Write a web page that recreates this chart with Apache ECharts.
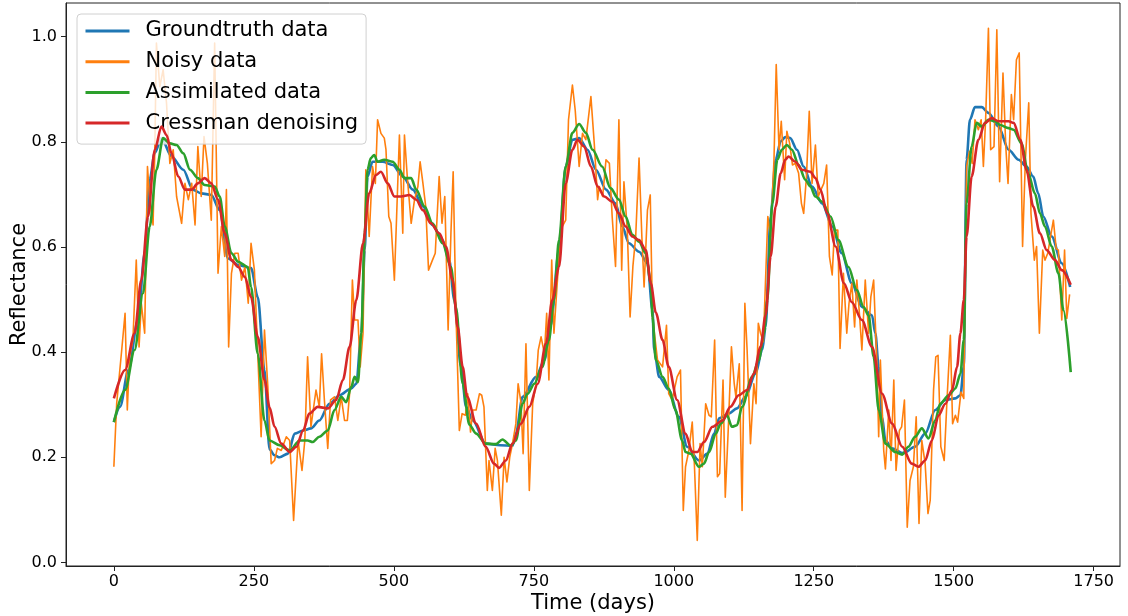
<!DOCTYPE html>
<html>
<head>
<meta charset="utf-8">
<script src="https://cdn.jsdelivr.net/npm/echarts@6/dist/echarts.min.js"></script>
<style>
  html, body { margin: 0; padding: 0; background: #fff; }
  #chart { width: 1128px; height: 616px; }
</style>
</head>
<body>
<div id="chart"></div>
<script>
// Reflectance time series: ground truth, noisy observations and two reconstructions.

const xTicks = [0, 250, 500, 750, 1000, 1250, 1500, 1750];
const yTicks = [0.0, 0.2, 0.4, 0.6, 0.8, 1.0];

const gtDays = [0, 11, 26, 43, 55, 64, 73, 85, 103, 124, 141, 156, 174, 189, 204, 222, 245, 257, 269, 278, 287, 296, 311, 323, 338, 352, 367, 385, 403, 424, 433, 442, 448, 453, 462, 480, 498, 516, 534, 552, 569, 587, 599, 608, 620, 629, 641, 664, 690, 712, 718, 730, 754, 769, 780, 795, 807, 819, 831, 846, 861, 879, 896, 908, 920, 938, 953, 962, 965, 974, 991, 1009, 1024, 1045, 1060, 1072, 1081, 1098, 1113, 1128, 1146, 1158, 1164, 1173, 1182, 1191, 1199, 1208, 1220, 1232, 1247, 1265, 1283, 1300, 1318, 1336, 1354, 1360, 1366, 1372, 1378, 1390, 1410, 1431, 1449, 1467, 1485, 1503, 1512, 1518, 1523, 1529, 1538, 1550, 1562, 1580, 1598, 1616, 1630, 1642, 1651, 1660, 1675, 1693, 1708];
const gtVals = [0.267, 0.296, 0.366, 0.461, 0.588, 0.728, 0.779, 0.807, 0.772, 0.747, 0.709, 0.702, 0.699, 0.67, 0.578, 0.566, 0.56, 0.505, 0.366, 0.215, 0.204, 0.2, 0.207, 0.245, 0.251, 0.255, 0.27, 0.302, 0.318, 0.331, 0.34, 0.436, 0.594, 0.734, 0.762, 0.762, 0.756, 0.734, 0.709, 0.677, 0.642, 0.613, 0.575, 0.499, 0.372, 0.296, 0.27, 0.226, 0.223, 0.222, 0.245, 0.315, 0.353, 0.385, 0.45, 0.594, 0.753, 0.804, 0.807, 0.785, 0.747, 0.709, 0.683, 0.639, 0.607, 0.591, 0.569, 0.48, 0.404, 0.353, 0.328, 0.277, 0.22, 0.194, 0.207, 0.245, 0.274, 0.283, 0.293, 0.315, 0.359, 0.404, 0.448, 0.658, 0.766, 0.801, 0.809, 0.807, 0.785, 0.753, 0.715, 0.683, 0.639, 0.588, 0.531, 0.486, 0.47, 0.436, 0.372, 0.277, 0.232, 0.217, 0.208, 0.22, 0.245, 0.29, 0.309, 0.312, 0.318, 0.372, 0.766, 0.842, 0.866, 0.866, 0.855, 0.829, 0.785, 0.766, 0.753, 0.734, 0.702, 0.658, 0.62, 0.569, 0.524];

const noisyDays = [0, 5, 14, 20, 24, 28, 34, 40, 45, 49, 55, 60, 64, 70, 73, 76, 82, 88, 94, 100, 106, 112, 121, 127, 133, 139, 145, 150, 156, 161, 167, 174, 180, 186, 192, 198, 201, 205, 210, 216, 222, 228, 234, 240, 245, 251, 257, 263, 269, 275, 281, 287, 292, 299, 308, 314, 321, 329, 336, 341, 346, 352, 361, 367, 371, 376, 382, 387, 394, 400, 406, 412, 417, 421, 426, 430, 436, 440, 445, 450, 456, 462, 467, 471, 477, 483, 486, 491, 495, 501, 505, 510, 516, 519, 524, 531, 537, 543, 547, 552, 557, 562, 569, 574, 581, 586, 591, 597, 602, 606, 611, 617, 622, 628, 632, 637, 641, 647, 653, 657, 661, 667, 670, 676, 681, 685, 692, 697, 702, 707, 712, 718, 722, 727, 731, 736, 742, 748, 754, 758, 763, 769, 773, 777, 782, 786, 795, 801, 807, 812, 819, 824, 831, 837, 843, 852, 858, 864, 867, 873, 879, 885, 890, 896, 902, 907, 911, 917, 922, 927, 932, 938, 943, 947, 953, 958, 962, 971, 980, 987, 991, 997, 1006, 1012, 1017, 1021, 1027, 1033, 1037, 1042, 1047, 1051, 1057, 1063, 1067, 1073, 1078, 1082, 1088, 1092, 1097, 1103, 1108, 1111, 1117, 1122, 1127, 1131, 1137, 1143, 1147, 1151, 1155, 1160, 1168, 1173, 1179, 1183, 1188, 1192, 1198, 1202, 1207, 1212, 1217, 1223, 1228, 1232, 1237, 1242, 1247, 1253, 1258, 1263, 1268, 1273, 1278, 1283, 1287, 1293, 1297, 1303, 1309, 1313, 1318, 1323, 1327, 1332, 1336, 1342, 1348, 1352, 1357, 1363, 1366, 1369, 1375, 1378, 1384, 1388, 1393, 1397, 1403, 1407, 1412, 1417, 1422, 1428, 1433, 1438, 1443, 1449, 1454, 1458, 1464, 1468, 1472, 1477, 1483, 1488, 1494, 1498, 1503, 1507, 1513, 1518, 1523, 1528, 1533, 1538, 1544, 1549, 1553, 1557, 1562, 1566, 1572, 1577, 1582, 1588, 1593, 1597, 1603, 1607, 1612, 1617, 1623, 1628, 1634, 1638, 1644, 1648, 1653, 1659, 1663, 1668, 1673, 1678, 1683, 1687, 1693, 1698, 1702, 1707];
const noisyVals = [0.182, 0.302, 0.404, 0.474, 0.29, 0.391, 0.423, 0.575, 0.41, 0.493, 0.436, 0.753, 0.69, 0.642, 0.778, 0.988, 0.905, 0.937, 0.874, 0.759, 0.785, 0.696, 0.645, 0.721, 0.69, 0.721, 0.642, 0.791, 0.696, 0.81, 0.759, 0.651, 0.988, 0.55, 0.639, 0.582, 0.709, 0.41, 0.55, 0.588, 0.588, 0.537, 0.562, 0.493, 0.607, 0.556, 0.397, 0.239, 0.442, 0.334, 0.188, 0.194, 0.217, 0.213, 0.239, 0.232, 0.08, 0.232, 0.175, 0.232, 0.391, 0.258, 0.328, 0.296, 0.397, 0.309, 0.217, 0.309, 0.315, 0.27, 0.315, 0.27, 0.27, 0.321, 0.537, 0.461, 0.461, 0.372, 0.436, 0.747, 0.62, 0.753, 0.721, 0.842, 0.816, 0.807, 0.785, 0.658, 0.645, 0.537, 0.658, 0.813, 0.626, 0.813, 0.734, 0.645, 0.69, 0.715, 0.762, 0.721, 0.677, 0.556, 0.575, 0.588, 0.734, 0.645, 0.696, 0.442, 0.626, 0.743, 0.474, 0.251, 0.283, 0.28, 0.321, 0.248, 0.29, 0.29, 0.321, 0.318, 0.296, 0.137, 0.194, 0.137, 0.217, 0.194, 0.09, 0.2, 0.153, 0.2, 0.226, 0.264, 0.34, 0.305, 0.207, 0.416, 0.137, 0.302, 0.34, 0.404, 0.429, 0.397, 0.474, 0.347, 0.575, 0.436, 0.582, 0.639, 0.651, 0.842, 0.908, 0.86, 0.753, 0.816, 0.804, 0.886, 0.797, 0.69, 0.715, 0.696, 0.766, 0.759, 0.658, 0.563, 0.842, 0.556, 0.724, 0.632, 0.467, 0.563, 0.62, 0.769, 0.62, 0.524, 0.67, 0.699, 0.467, 0.385, 0.372, 0.451, 0.321, 0.309, 0.353, 0.366, 0.099, 0.182, 0.213, 0.267, 0.182, 0.042, 0.226, 0.182, 0.302, 0.28, 0.277, 0.423, 0.163, 0.169, 0.347, 0.124, 0.245, 0.41, 0.34, 0.315, 0.378, 0.099, 0.493, 0.404, 0.226, 0.34, 0.302, 0.455, 0.436, 0.42, 0.658, 0.62, 0.766, 0.947, 0.785, 0.839, 0.728, 0.82, 0.797, 0.756, 0.759, 0.74, 0.683, 0.664, 0.734, 0.858, 0.721, 0.794, 0.696, 0.709, 0.721, 0.756, 0.582, 0.547, 0.632, 0.632, 0.407, 0.55, 0.436, 0.493, 0.531, 0.448, 0.537, 0.467, 0.404, 0.537, 0.436, 0.505, 0.537, 0.372, 0.239, 0.385, 0.213, 0.178, 0.29, 0.194, 0.347, 0.175, 0.251, 0.258, 0.309, 0.067, 0.156, 0.182, 0.277, 0.074, 0.232, 0.188, 0.093, 0.118, 0.328, 0.391, 0.394, 0.22, 0.194, 0.309, 0.432, 0.264, 0.28, 0.267, 0.324, 0.312, 0.753, 0.782, 0.759, 0.842, 0.823, 0.842, 0.753, 0.842, 1.016, 0.785, 0.791, 1.013, 0.724, 0.931, 0.791, 0.721, 0.89, 0.842, 0.956, 0.969, 0.601, 0.766, 0.874, 0.664, 0.575, 0.601, 0.436, 0.594, 0.575, 0.588, 0.62, 0.651, 0.597, 0.594, 0.461, 0.594, 0.464, 0.51];

const assimDays = [0, 20, 37, 52, 64, 76, 88, 100, 112, 124, 136, 150, 162, 180, 189, 198, 210, 222, 239, 245, 257, 269, 278, 296, 314, 332, 346, 355, 367, 382, 394, 406, 415, 424, 430, 436, 442, 448, 453, 459, 465, 471, 483, 498, 510, 519, 531, 540, 555, 569, 587, 602, 611, 623, 635, 647, 664, 682, 694, 709, 718, 730, 739, 751, 765, 777, 786, 795, 807, 819, 831, 843, 855, 872, 887, 902, 914, 926, 938, 950, 959, 962, 968, 980, 991, 1003, 1015, 1021, 1030, 1045, 1054, 1063, 1075, 1084, 1095, 1104, 1113, 1122, 1140, 1152, 1161, 1167, 1176, 1185, 1193, 1202, 1211, 1223, 1235, 1244, 1253, 1265, 1280, 1294, 1312, 1327, 1339, 1348, 1357, 1366, 1378, 1396, 1408, 1419, 1431, 1443, 1455, 1467, 1476, 1491, 1503, 1512, 1518, 1523, 1532, 1541, 1550, 1562, 1574, 1583, 1598, 1607, 1621, 1633, 1645, 1654, 1663, 1675, 1687, 1696, 1709];
const assimVals = [0.267, 0.328, 0.404, 0.512, 0.639, 0.747, 0.807, 0.797, 0.794, 0.778, 0.747, 0.731, 0.718, 0.715, 0.696, 0.639, 0.588, 0.572, 0.562, 0.524, 0.397, 0.27, 0.232, 0.223, 0.213, 0.232, 0.232, 0.229, 0.239, 0.251, 0.29, 0.315, 0.305, 0.334, 0.353, 0.343, 0.436, 0.626, 0.747, 0.769, 0.775, 0.762, 0.766, 0.762, 0.747, 0.731, 0.731, 0.709, 0.677, 0.645, 0.607, 0.562, 0.486, 0.34, 0.262, 0.245, 0.226, 0.225, 0.234, 0.222, 0.232, 0.302, 0.321, 0.34, 0.372, 0.423, 0.499, 0.613, 0.753, 0.817, 0.834, 0.817, 0.785, 0.753, 0.712, 0.69, 0.658, 0.623, 0.61, 0.588, 0.531, 0.467, 0.385, 0.353, 0.331, 0.29, 0.232, 0.21, 0.207, 0.182, 0.188, 0.21, 0.245, 0.264, 0.28, 0.258, 0.261, 0.296, 0.353, 0.385, 0.436, 0.499, 0.683, 0.766, 0.785, 0.794, 0.785, 0.756, 0.728, 0.715, 0.696, 0.686, 0.658, 0.613, 0.562, 0.518, 0.486, 0.47, 0.391, 0.29, 0.226, 0.21, 0.205, 0.22, 0.239, 0.255, 0.236, 0.27, 0.302, 0.318, 0.331, 0.359, 0.423, 0.683, 0.791, 0.836, 0.829, 0.842, 0.839, 0.832, 0.826, 0.823, 0.797, 0.74, 0.702, 0.664, 0.639, 0.601, 0.55, 0.48, 0.362];

const cressDays = [0, 20, 37, 49, 61, 73, 85, 94, 103, 115, 127, 139, 150, 162, 174, 186, 198, 210, 222, 234, 245, 257, 269, 278, 287, 299, 314, 326, 338, 349, 364, 382, 397, 409, 421, 433, 445, 456, 468, 477, 489, 501, 513, 528, 540, 552, 566, 581, 593, 605, 614, 623, 631, 647, 664, 679, 688, 700, 712, 727, 742, 757, 772, 783, 795, 807, 819, 828, 840, 852, 864, 876, 890, 902, 914, 926, 938, 950, 959, 968, 980, 991, 1006, 1021, 1033, 1042, 1054, 1069, 1087, 1101, 1116, 1131, 1143, 1155, 1164, 1173, 1182, 1191, 1199, 1205, 1217, 1229, 1244, 1253, 1262, 1274, 1289, 1304, 1318, 1336, 1354, 1372, 1390, 1408, 1425, 1437, 1449, 1461, 1473, 1485, 1497, 1506, 1512, 1518, 1523, 1532, 1544, 1556, 1568, 1580, 1598, 1607, 1619, 1630, 1642, 1654, 1666, 1681, 1693, 1709];
const cressVals = [0.312, 0.366, 0.436, 0.537, 0.658, 0.785, 0.829, 0.813, 0.778, 0.734, 0.709, 0.709, 0.721, 0.731, 0.721, 0.69, 0.626, 0.575, 0.562, 0.543, 0.505, 0.429, 0.347, 0.295, 0.258, 0.226, 0.21, 0.22, 0.251, 0.283, 0.296, 0.293, 0.309, 0.347, 0.41, 0.499, 0.607, 0.702, 0.737, 0.743, 0.721, 0.696, 0.696, 0.699, 0.69, 0.67, 0.645, 0.626, 0.601, 0.537, 0.448, 0.372, 0.315, 0.264, 0.22, 0.188, 0.18, 0.194, 0.226, 0.264, 0.296, 0.34, 0.417, 0.499, 0.562, 0.721, 0.785, 0.804, 0.791, 0.753, 0.715, 0.696, 0.686, 0.664, 0.639, 0.62, 0.613, 0.594, 0.531, 0.475, 0.423, 0.372, 0.309, 0.245, 0.21, 0.21, 0.229, 0.258, 0.27, 0.296, 0.318, 0.328, 0.359, 0.41, 0.47, 0.582, 0.677, 0.74, 0.766, 0.772, 0.762, 0.747, 0.743, 0.731, 0.709, 0.664, 0.601, 0.531, 0.495, 0.461, 0.41, 0.321, 0.264, 0.22, 0.188, 0.182, 0.194, 0.232, 0.28, 0.302, 0.328, 0.372, 0.436, 0.499, 0.62, 0.734, 0.804, 0.836, 0.845, 0.839, 0.839, 0.836, 0.804, 0.747, 0.677, 0.626, 0.594, 0.575, 0.556, 0.528];

const pairs = (days, vals) => days.map((d, i) => [d, vals[i]]);

const FONT = 'DejaVu Sans';
const chart = echarts.init(document.getElementById('chart'), null, { renderer: 'canvas' });

chart.setOption({
  animation: false,
  backgroundColor: '#ffffff',
  textStyle: { fontFamily: FONT, color: '#000' },
  grid: {
    left: 66, right: 8, top: 3, bottom: 50,
    containLabel: false, outerBoundsMode: 'none',
    show: true, borderColor: '#222', borderWidth: 1, backgroundColor: 'transparent'
  },
  legend: {
    orient: 'vertical',
    left: 77, top: 14,
    padding: [4, 8, 8, 7],
    itemWidth: 44, itemHeight: 2, itemGap: 4.7,
    itemStyle: { opacity: 0 },
    lineStyle: { width: 3 },
    backgroundColor: 'rgba(255,255,255,0.8)',
    borderColor: '#d0d0d0', borderWidth: 1, borderRadius: 4,
    textStyle: { fontFamily: FONT, fontSize: 21, color: '#000', lineHeight: 26, padding: [0, 0, 0, 11] },
    data: ['Groundtruth data', 'Noisy data', 'Assimilated data', 'Cressman denoising']
  },
  xAxis: {
    type: 'value', min: -85.5, max: 1797,
    name: 'Time (days)', nameLocation: 'middle', nameGap: 27, nameMoveOverlap: false,
    nameTextStyle: { fontFamily: FONT, fontSize: 21, color: '#000' },
    axisLine: { show: true, onZero: false, lineStyle: { color: '#222', width: 1 } },
    axisTick: { show: true, length: 5, inside: false, customValues: xTicks, lineStyle: { color: '#222' } },
    axisLabel: { customValues: xTicks, fontFamily: FONT, fontSize: 16, color: '#000', margin: 8,
                 formatter: v => String(v) },
    splitLine: { show: false }
  },
  yAxis: {
    type: 'value', min: -0.0067, max: 1.064,
    name: 'Reflectance', nameLocation: 'middle', nameGap: 36, nameMoveOverlap: false,
    nameTextStyle: { fontFamily: FONT, fontSize: 21, color: '#000' },
    axisLine: { show: true, onZero: false, lineStyle: { color: '#222', width: 1 } },
    axisTick: { show: true, length: 5, inside: false, customValues: yTicks, lineStyle: { color: '#222' } },
    axisLabel: { customValues: yTicks, fontFamily: FONT, fontSize: 16, color: '#000', margin: 9,
                 formatter: v => v.toFixed(1) },
    splitLine: { show: false }
  },
  series: [
    {
      name: 'Groundtruth data', type: 'line', symbol: 'none', smooth: 0.3, smoothMonotone: 'x',
      data: pairs(gtDays, gtVals), z: 2,
      lineStyle: { color: '#1f77b4', width: 2.6 }, itemStyle: { color: '#1f77b4' }
    },
    {
      name: 'Noisy data', type: 'line', symbol: 'none', smooth: false,
      data: pairs(noisyDays, noisyVals), z: 3,
      lineStyle: { color: '#ff7f0e', width: 1.6, join: 'round' }, itemStyle: { color: '#ff7f0e' }
    },
    {
      name: 'Assimilated data', type: 'line', symbol: 'none', smooth: 0.3, smoothMonotone: 'x',
      data: pairs(assimDays, assimVals), z: 4,
      lineStyle: { color: '#2ca02c', width: 2.6 }, itemStyle: { color: '#2ca02c' }
    },
    {
      name: 'Cressman denoising', type: 'line', symbol: 'none', smooth: 0.3, smoothMonotone: 'x',
      data: pairs(cressDays, cressVals), z: 5,
      lineStyle: { color: '#d62728', width: 2.6 }, itemStyle: { color: '#d62728' }
    }
  ]
});
</script>
</body>
</html>
